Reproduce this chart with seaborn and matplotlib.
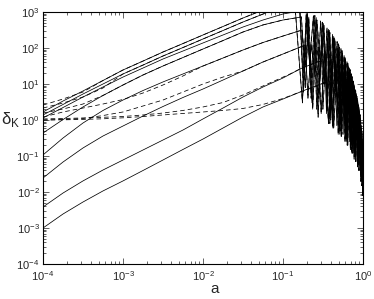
import pandas as pd
import matplotlib
matplotlib.use('Agg')
import matplotlib.pyplot as plt
import matplotlib.ticker as mticker
import seaborn as sns

# scale factors at which the curves were read (quarter decades)
a_q = [1e-4, 1.78e-4, 3.16e-4, 5.62e-4, 1e-3, 1.78e-3, 3.16e-3, 5.62e-3,
       1e-2, 1.78e-2, 3.16e-2, 5.62e-2, 0.1]

# solid curves: growth part on a_q, then a few points up to the peak
s1_d = [1.67, 3.37, 6.4, 12.5, 24.5, 43.4, 77.4, 133, 230, 396, 681, 1136, 1900]
s1_pa, s1_pd = [0.13, 0.16], [2500, 2200]
s2_d = [1.38, 2.70, 5.27, 10.0, 19.0, 33.6, 59.9, 103, 178, 306, 527, 877, 1468]
s2_pa, s2_pd = [0.14], [1900]
s3_d = [1.14, 2.22, 4.35, 8.25, 15.6, 27.8, 49.5, 82.5, 138, 230, 383, 599, 880]
s3_pa, s3_pd = [0.163], [1069]
s4_d = [0.435, 1.03, 2.30, 4.80, 9.38, 17.8, 31.6, 54.4, 93.8, 161, 278, 437, 599]
s4_pa, s4_pd = [0.17], [728]
s5_d = [0.107, 0.316, 0.825, 1.84, 3.59, 6.59, 11.4, 19.0, 31.6, 52.7, 87.9, 142, 215]
s5_pa, s5_pd = [0.173], [316]
s6_d = [0.0245, 0.0681, 0.167, 0.359, 0.681, 1.29, 2.37, 4.22, 7.26, 12.9, 23.0, 40.8, 68.1]
s6_pa, s6_pd = [0.19], [121]
s7_d = [0.00383, 0.00937, 0.0203, 0.0408, 0.0774, 0.147, 0.278, 0.527, 1.07, 2.15, 4.35, 8.25, 14.7]
s7_pa, s7_pd = [0.163, 0.266, 0.307], [26.1, 40.8, 43.4]
s8_d = [0.001, 0.00245, 0.00527, 0.0107, 0.0203, 0.0396, 0.0774, 0.152, 0.296, 0.599, 1.21, 2.30, 3.83]
s8_pa, s8_pd = [0.2175, 0.35], [7.74, 11.4]

# oscillating tails (alternating trough / crest)
t1_a = [0.18, 0.20, 0.225, 0.25, 0.28, 0.31, 0.34, 0.37, 0.40, 0.43,
        0.46, 0.49, 0.52, 0.545, 0.57, 0.595, 0.62, 0.645, 0.67, 0.69,
        0.71, 0.73, 0.75, 0.77, 0.79, 0.81, 0.83, 0.85, 0.87, 0.89,
        0.91, 0.93, 0.95, 0.97, 0.99, 1.0]
t1_d = [6, 950, 15, 800, 4, 520, 25, 330, 2, 210,
        8, 130, 0.8, 85, 4, 55, 0.4, 38, 2, 25,
        0.25, 16, 1, 10, 0.15, 6.5, 0.6, 4, 0.08, 2.3,
        0.3, 1.2, 0.04, 0.5, 0.02, 0.06]
t2_a = [0.175, 0.195, 0.215, 0.24, 0.265, 0.295, 0.325, 0.355, 0.385, 0.415,
        0.445, 0.475, 0.505, 0.53, 0.555, 0.58, 0.605, 0.63, 0.655, 0.68,
        0.70, 0.72, 0.74, 0.76, 0.78, 0.80, 0.82, 0.84, 0.86, 0.88,
        0.90, 0.92, 0.94, 0.96, 0.98, 1.0]
t2_d = [3, 900, 40, 780, 2, 560, 10, 360, 0.8, 240,
        12, 150, 0.5, 95, 3, 62, 0.3, 42, 1.5, 28,
        0.2, 19, 0.8, 12, 0.1, 7, 0.5, 4.5, 0.06, 2.6,
        0.2, 1.4, 0.03, 0.6, 0.015, 0.05]
t3_a = [0.178, 0.20, 0.23, 0.26, 0.29, 0.32, 0.35, 0.38, 0.41, 0.44,
        0.47, 0.50, 0.525, 0.55, 0.575, 0.60, 0.625, 0.65, 0.675, 0.70,
        0.72, 0.74, 0.76, 0.78, 0.80, 0.82, 0.84, 0.86, 0.88, 0.90,
        0.92, 0.94, 0.96, 0.98, 1.0]
t3_d = [20, 850, 3, 700, 12, 480, 1.5, 310, 15, 190,
        0.7, 120, 6, 78, 0.4, 52, 3, 34, 0.25, 22,
        1.5, 14, 0.12, 9, 0.8, 5.5, 0.08, 3.4, 0.3, 1.8,
        0.04, 0.9, 0.1, 0.35, 0.01]
t4_a = [0.19, 0.21, 0.235, 0.265, 0.295, 0.325, 0.355, 0.385, 0.415, 0.445,
        0.475, 0.505, 0.53, 0.555, 0.58, 0.605, 0.63, 0.655, 0.68, 0.705,
        0.725, 0.745, 0.765, 0.785, 0.805, 0.825, 0.845, 0.865, 0.885, 0.905,
        0.925, 0.945, 0.965, 0.985, 1.0]
t4_d = [8, 720, 2, 600, 30, 420, 3, 270, 0.7, 170,
        10, 105, 0.5, 70, 3, 46, 0.3, 30, 2, 19,
        0.2, 12, 1, 8, 0.1, 5, 0.5, 3, 0.06, 1.6,
        0.2, 0.7, 0.02, 0.25, 0.03]
t5_a = [0.19, 0.205, 0.225, 0.25, 0.275, 0.305, 0.335, 0.365, 0.395, 0.425,
        0.455, 0.485, 0.515, 0.54, 0.565, 0.59, 0.615, 0.64, 0.665, 0.69,
        0.71, 0.73, 0.75, 0.77, 0.79, 0.81, 0.83, 0.85, 0.87, 0.89,
        0.91, 0.93, 0.95, 0.97, 0.99, 1.0]
t5_d = [30, 300, 4, 270, 1.2, 220, 10, 160, 1, 110,
        6, 75, 0.4, 52, 3, 36, 0.25, 25, 2, 17,
        0.15, 11, 1, 7, 0.1, 4.5, 0.5, 2.8, 0.06, 1.5,
        0.15, 0.8, 0.03, 0.3, 0.008, 0.02]
t6_a = [0.205, 0.225, 0.25, 0.275, 0.30, 0.33, 0.36, 0.39, 0.42, 0.45,
        0.48, 0.51, 0.535, 0.56, 0.585, 0.61, 0.635, 0.66, 0.685, 0.705,
        0.725, 0.745, 0.765, 0.785, 0.805, 0.825, 0.845, 0.865, 0.885, 0.905,
        0.925, 0.945, 0.965, 0.985, 1.0]
t6_d = [4, 120, 20, 105, 1.5, 85, 6, 62, 0.6, 45,
        3, 32, 0.35, 23, 2, 16, 0.2, 11, 1, 7.5,
        0.12, 5, 0.6, 3.4, 0.07, 2.3, 0.3, 1.5, 0.04, 0.9,
        0.1, 0.45, 0.015, 0.15, 0.02]
t7_a = [0.315, 0.34, 0.37, 0.40, 0.43, 0.46, 0.49, 0.52, 0.545, 0.57,
        0.595, 0.62, 0.645, 0.67, 0.695, 0.715, 0.735, 0.755, 0.775, 0.795,
        0.815, 0.835, 0.855, 0.875, 0.895, 0.915, 0.935, 0.955, 0.975, 1.0]
t7_d = [2, 40, 0.8, 33, 3, 26, 0.4, 19, 1.5, 14,
        0.25, 10, 1, 7, 0.15, 5, 0.6, 3.5, 0.08, 2.4,
        0.3, 1.6, 0.05, 1, 0.12, 0.6, 0.02, 0.3, 0.03, 0.08]
t8_a = [0.37, 0.40, 0.43, 0.46, 0.49, 0.52, 0.545, 0.57, 0.595, 0.62,
        0.645, 0.67, 0.695, 0.715, 0.735, 0.755, 0.775, 0.795, 0.815, 0.835,
        0.855, 0.875, 0.895, 0.915, 0.935, 0.955, 0.975, 1.0]
t8_d = [1, 9.5, 0.6, 8, 1.5, 6.2, 0.4, 4.8, 0.8, 3.6,
        0.2, 2.7, 0.5, 2, 0.12, 1.5, 0.3, 1.1, 0.07, 0.8,
        0.2, 0.55, 0.04, 0.38, 0.1, 0.25, 0.02, 0.1]

# dashed curves: early part, then they run on top of a solid curve
da_a, da_d = a_q[:3], [2.6, 3.83, 6.0]
db_a, db_d = a_q[:4], [2.15, 2.97, 4.35, 7.74]
dc_a, dc_d = a_q[:3], [1.56, 2.02, 2.78]
dd_a, dd_d = a_q[:8], [1.21, 1.67, 2.15, 2.78, 3.71, 5.62, 9.38, 16.7]
de_a = a_q[:12] + [0.122]
de_d = [1.07, 1.10, 1.14, 1.19, 1.25, 1.38, 1.56, 1.84, 2.30, 3.06, 4.95, 8.80, 18.9]
df_a = a_q + [0.163, 0.25]
df_d = [1.0, 1.01, 1.04, 1.08, 1.15, 1.25, 1.38, 1.52, 1.67, 1.84, 2.09, 2.70, 3.96, 5.99, 8.25]
dg_a = a_q[:10]
dg_d = [1.0, 1.03, 1.10, 1.33, 1.67, 2.45, 3.59, 5.99, 10.0, 15.6]

x_ticks = [1e-4, 1e-3, 1e-2, 1e-1, 1]
y_ticks = [1e-4, 1e-3, 1e-2, 1e-1, 1, 1e1, 1e2, 1e3]

solid = {
    's1': (a_q + s1_pa + t1_a, s1_d + s1_pd + t1_d),
    's2': (a_q + s2_pa + t2_a, s2_d + s2_pd + t2_d),
    's3': (a_q + s3_pa + t3_a, s3_d + s3_pd + t3_d),
    's4': (a_q + s4_pa + t4_a, s4_d + s4_pd + t4_d),
    's5': (a_q + s5_pa + t5_a, s5_d + s5_pd + t5_d),
    's6': (a_q + s6_pa + t6_a, s6_d + s6_pd + t6_d),
    's7': (a_q + s7_pa + t7_a, s7_d + s7_pd + t7_d),
    's8': (a_q + s8_pa + t8_a, s8_d + s8_pd + t8_d),
}
# (name, a, delta, solid curve it joins, from which a on)
dashed = [('da', da_a, da_d, 's1', 5.62e-4), ('db', db_a, db_d, 's2', 1e-3),
          ('dc', dc_a, dc_d, 's4', 5.62e-4), ('dd', dd_a, dd_d, 's5', 1e-2),
          ('de', de_a, de_d, 's7', 0.163), ('df', df_a, df_d, 's8', 0.35),
          ('dg', dg_a, dg_d, 's6', 3.16e-2)]

frames = []
for name, (a, d) in solid.items():
    frames.append(pd.DataFrame({'a': a, 'delta': d, 'curve': name, 'kind': 'solid'}))
for name, a, d, base, a_join in dashed:
    ba, bd = solid[base]
    rest = [(x, y) for x, y in zip(ba, bd) if x >= a_join]
    frames.append(pd.DataFrame({'a': a + [r[0] for r in rest],
                                'delta': d + [r[1] for r in rest],
                                'curve': name, 'kind': 'dashed'}))
df = pd.concat(frames, ignore_index=True)

sns.set_style('ticks')
plt.rcParams['font.family'] = ['Liberation Sans', 'DejaVu Sans']

fig = plt.figure(figsize=(3.74, 2.99), dpi=100)
ax = fig.add_axes([43 / 374, 35 / 299, 320 / 374, 252 / 299])

sns.lineplot(data=df, x='a', y='delta', units='curve', estimator=None,
             style='kind', dashes={'solid': '', 'dashed': (6, 4)},
             color='black', linewidth=0.55, legend=False, sort=False, ax=ax)

ax.set_xscale('log')
ax.set_yscale('log')
ax.set_xticks(x_ticks)
ax.set_yticks(y_ticks)
ax.xaxis.set_minor_formatter(mticker.NullFormatter())
ax.yaxis.set_minor_formatter(mticker.NullFormatter())
ax.set_xlim(1e-4, 1)
ax.set_ylim(1e-4, 1e3)
ax.tick_params(which='both', direction='in', top=True, right=True,
               width=0.5, labelsize=8)
ax.tick_params(axis='x', pad=3.5)
ax.tick_params(axis='y', pad=2.5)
ax.tick_params(which='major', length=4)
ax.tick_params(which='minor', length=2)
for s in ax.spines.values():
    s.set_linewidth(0.8)
    s.set_color('black')

ax.set_xlabel('a', fontsize=11)
ax.xaxis.set_label_coords(0.5375, -0.1)
ax.xaxis.label.set_va('center')
ax.set_ylabel(r'δ$_\mathregular{K}$', fontsize=12, rotation=0)
ax.yaxis.set_label_coords(-0.1, 0.575)
ax.yaxis.label.set_va('center')
ax.yaxis.label.set_ha('center')

fig.savefig('out.png', dpi=100)
